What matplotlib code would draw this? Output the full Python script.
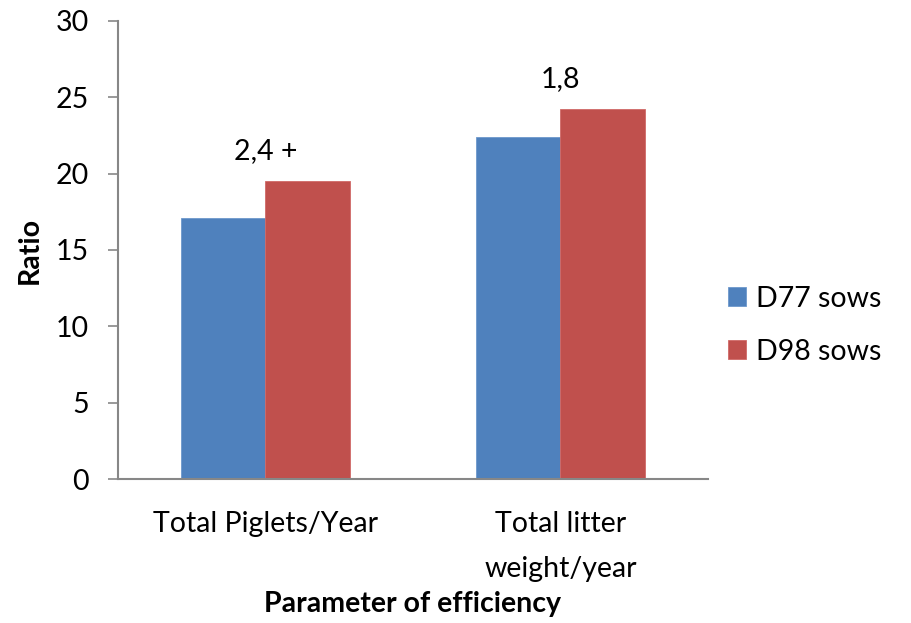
import matplotlib
matplotlib.use("Agg")
import matplotlib.pyplot as plt
import numpy as np

plt.rcParams['font.family'] = ['Lato', 'DejaVu Sans']

categories = ["Total Piglets/Year", "Total litter\nweight/year"]
series_names = ["D77 sows", "D98 sows"]
d77_values = [17.1, 22.4]
d98_values = [19.5, 24.2]
diff_labels = ["2,4 +", "1,8"]
y_ticks = [0, 5, 10, 15, 20, 25, 30]

colors = ["#4F81BD", "#C0504D"]
axis_gray = "#878787"
fs = 20.5

fig = plt.figure(figsize=(9.11, 6.23), dpi=100)
ax = fig.add_axes([0.1295, 0.2307, 0.6475, 0.7361])

x = np.arange(len(categories))
w = 0.2855
ax.bar(x - w / 2, d77_values, w, color=colors[0], label=series_names[0],
       edgecolor="#6d98cc", linewidth=0.6)
ax.bar(x + w / 2, d98_values, w, color=colors[1], label=series_names[1],
       edgecolor="#d06a67", linewidth=0.6)

# difference annotations above each group
for xi, top, txt in zip(x, d98_values, diff_labels):
    ax.text(xi, top + 2.0, txt, ha="center", va="center", fontsize=fs)

ax.set_xlim(-0.5, 1.5)
ax.set_ylim(0, 30)
ax.set_yticks(y_ticks)
ax.tick_params(axis="y", length=7.2, width=1.2, color=axis_gray, pad=14,
               labelsize=fs)
ax.set_xticks(x)
ax.set_xticklabels(categories, fontsize=fs, linespacing=1.9)
ax.tick_params(axis="x", length=0, pad=23)

for side in ("top", "right"):
    ax.spines[side].set_visible(False)
for side in ("left", "bottom"):
    ax.spines[side].set_color(axis_gray)
    ax.spines[side].set_linewidth(1.5)

ax.set_ylabel("Ratio", fontsize=fs, fontweight="bold", va="center")
ax.yaxis.set_label_coords(-0.149, 0.5)
ax.set_xlabel("Parameter of efficiency", fontsize=fs, fontweight="bold",
              va="center")
ax.xaxis.set_label_coords(0.5, -0.272)

ax.legend(loc="center left", bbox_to_anchor=(1.035, 0.336), frameon=False,
          fontsize=fs, handlelength=0.63, handleheight=0.63,
          handletextpad=0.35, labelspacing=0.95, borderpad=0, borderaxespad=0)

fig.savefig("out.png", dpi=100)
